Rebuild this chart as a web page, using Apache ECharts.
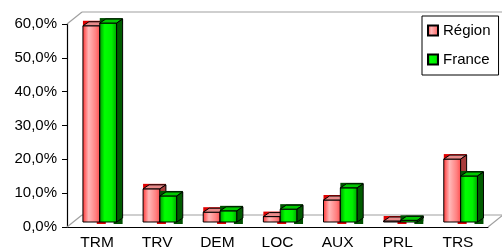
<!DOCTYPE html>
<html>
<head>
<meta charset="utf-8">
<script src="https://cdn.jsdelivr.net/npm/echarts@6/dist/echarts.min.js"></script>
<style>
  html, body { margin: 0; padding: 0; background: #fff; }
  #chart { width: 502px; height: 252px; }
</style>
</head>
<body>
<div id="chart"></div>
<script>
const categories = ['TRM', 'TRV', 'DEM', 'LOC', 'AUX', 'PRL', 'TRS']
const regionValues = [58.0, 9.8, 2.9, 1.6, 6.5, 0.3, 18.6]
const franceValues = [58.8, 7.7, 3.3, 3.8, 10.1, 0.5, 13.6]
const seriesNames = ['Région', 'France']

const FONT = '"Liberation Sans", Arial, sans-serif'

const pink = {
  front: new echarts.graphic.LinearGradient(0, 0, 1, 0, [
    { offset: 0, color: '#ff3030' },
    { offset: 0.35, color: '#ffb8b8' },
    { offset: 0.75, color: '#ff8080' },
    { offset: 1, color: '#ff4c4c' }
  ]),
  top: '#e98a8a',
  side: '#a83c3c',
  dark: '#e00000'
}
const green = {
  front: new echarts.graphic.LinearGradient(0, 0, 1, 0, [
    { offset: 0, color: '#009000' },
    { offset: 0.3, color: '#00ff00' },
    { offset: 0.7, color: '#00f000' },
    { offset: 1, color: '#00a000' }
  ]),
  top: '#00c800',
  side: '#005c00',
  dark: '#005000'
}

// 3d-ish column drawn from the axis scales
const makeBar = (offset, pal) => (params, api) => {
  const i = api.value(0)
  const v = api.value(1)
  const base = api.coord([i, 0])
  const top = api.coord([i, v])
  const bw = api.size([1, 0])[0]
  const left = base[0] - bw / 2
  const w = bw * 0.28
  const x0 = left + offset * bw
  const lift = 5, dx = 6, dy = 4
  const yb = base[1] - lift
  const yt = Math.min(top[1] - lift, yb - 1)
  const line = { stroke: '#000', lineWidth: 1 }
  return {
    type: 'group',
    children: [
      { type: 'rect', shape: { x: x0, y: yt - dy - 1, width: w + dx, height: dy + 2 }, style: { fill: pal.dark } },
      { type: 'rect', shape: { x: x0 + w - 3, y: yb - dy, width: dx + 3, height: dy + 2 }, style: { fill: pal.dark } },
      { type: 'rect', shape: { x: x0, y: yt, width: w, height: yb - yt }, style: Object.assign({ fill: pal.front }, line) },
      { type: 'polygon', shape: { points: [[x0, yt], [x0 + dx, yt - dy], [x0 + w + dx, yt - dy], [x0 + w, yt]] }, style: Object.assign({ fill: pal.top }, line) },
      { type: 'polygon', shape: { points: [[x0 + w, yt], [x0 + w + dx, yt - dy], [x0 + w + dx, yb - dy], [x0 + w, yb]] }, style: Object.assign({ fill: pal.side }, line) }
    ]
  }
}

// back wall + floor outline
const drawFrame = (params, api) => {
  const g = params.coordSys
  const dx = 15, dy = 12
  const st = { stroke: '#a0a0a0', lineWidth: 1.2 }
  const seg = (a, b) => ({ type: 'line', shape: { x1: a[0], y1: a[1], x2: b[0], y2: b[1] }, style: st })
  const L = g.x, R = g.x + g.width, T = g.y, B = g.y + g.height
  return {
    type: 'group',
    children: [
      seg([L, T], [L + dx, T - dy]),
      seg([L + dx, T - dy], [R + dx, T - dy]),
      seg([L, B], [L + dx, B - dy]),
      seg([L + dx, B - dy], [R + dx, B - dy]),
      seg([R, B], [R + dx, B - dy]),
      seg([R + dx, T - dy], [R + dx, B - dy])
    ]
  }
}

const chart = echarts.init(document.getElementById('chart'))

chart.setOption({
  animation: false,
  textStyle: { fontFamily: FONT },
  grid: { left: 67, right: 14, top: 24, bottom: 25 },
  legend: {
    data: seriesNames,
    orient: 'vertical',
    left: 422,
    top: 16,
    padding: [7, 8, 8, 5],
    itemGap: 14,
    itemWidth: 10,
    itemHeight: 10,
    icon: 'rect',
    borderColor: '#000',
    borderWidth: 1,
    textStyle: { fontSize: 15, color: '#000', fontFamily: FONT }
  },
  xAxis: {
    type: 'category',
    data: categories,
    axisLine: { lineStyle: { color: '#000', width: 1.2 } },
    axisTick: { length: 4, lineStyle: { color: '#000' } },
    axisLabel: { fontSize: 15.5, color: '#000', margin: 8, fontFamily: FONT }
  },
  yAxis: {
    type: 'value',
    min: 0,
    max: 60,
    interval: 10,
    splitLine: { show: false },
    axisLine: { show: true, lineStyle: { color: '#000', width: 1.2 } },
    axisTick: { show: true, length: 5, lineStyle: { color: '#000' } },
    axisLabel: {
      fontSize: 15,
      color: '#000',
      margin: 10,
      fontFamily: FONT,
      formatter: v => v.toFixed(1).replace('.', ',') + '%'
    }
  },
  series: [
    {
      type: 'custom',
      name: 'frame',
      z: 1,
      silent: true,
      renderItem: drawFrame,
      data: [[0, 0]]
    },
    {
      type: 'custom',
      name: seriesNames[0],
      z: 2,
      itemStyle: { color: pink.front, borderColor: '#000', borderWidth: 1 },
      renderItem: makeBar(0.265, pink),
      data: regionValues.map((v, i) => [i, v])
    },
    {
      type: 'custom',
      name: seriesNames[1],
      z: 3,
      itemStyle: { color: green.front, borderColor: '#000', borderWidth: 1 },
      renderItem: makeBar(0.545, green),
      data: franceValues.map((v, i) => [i, v])
    }
  ]
})
</script>
</body>
</html>
